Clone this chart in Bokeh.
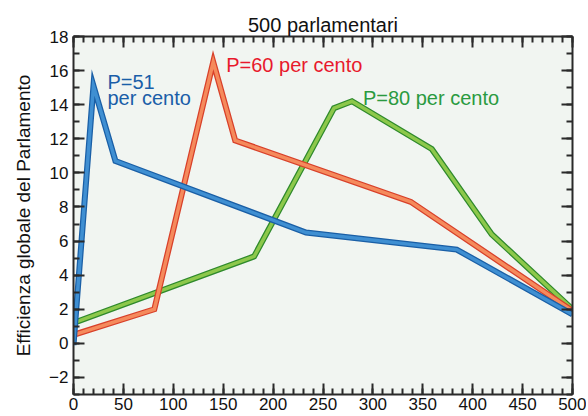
from bokeh.plotting import figure
from bokeh.models import LinearAxis, Range1d, FixedTicker, Label
from bokeh.embed import file_html
from bokeh.resources import INLINE

# Data
x_p51 = [0, 20, 42, 233, 384, 500]
y_p51 = [-0.1, 15.1, 10.7, 6.5, 5.5, 1.7]

x_p60 = [0, 81, 140, 162, 338, 500]
y_p60 = [0.5, 2.0, 16.5, 11.9, 8.3, 1.9]

x_p80 = [0, 181, 261, 279, 359, 419, 500]
y_p80 = [1.2, 5.1, 13.8, 14.2, 11.4, 6.4, 2.0]

x_ticks = list(range(0, 501, 50))
x_minor = list(range(0, 501, 10))
y_ticks = list(range(-2, 19, 2))
y_minor = list(range(-3, 19, 1))

title_text = "500 parlamentari"
y_label = "Efficienza globale del Parlamento"

FONT = "Liberation Sans"
AX = "#2a2a2a"

p = figure(frame_width=499, frame_height=358, x_range=Range1d(0, 500), y_range=Range1d(-3, 18),
           output_backend="svg", toolbar_location=None,
           min_border_left=73, min_border_right=14, min_border_top=36, min_border_bottom=0)

p.background_fill_color = "#f1f5f1"
p.border_fill_color = "white"
p.outline_line_color = None
p.xgrid.visible = False
p.ygrid.visible = False

p.title.text = title_text
p.title.align = "center"
p.title.text_font = FONT
p.title.text_font_size = "20px"
p.title.text_font_style = "normal"
p.title.text_color = "#111111"
p.title.standoff = 2


def style_axis(ax, labels=True):
    ax.axis_line_color = AX
    ax.axis_line_width = 2
    ax.major_tick_line_color = AX
    ax.minor_tick_line_color = AX
    ax.major_tick_line_width = 2
    ax.minor_tick_line_width = 2
    ax.major_tick_in = 11
    ax.major_tick_out = 0
    ax.minor_tick_in = 6
    ax.minor_tick_out = 0
    ax.major_label_text_font = FONT
    ax.major_label_text_color = "#111111"
    if labels:
        ax.major_label_text_font_size = "17px"
        ax.major_label_standoff = 3
    else:
        ax.major_label_overrides = {t: "" for t in ax.ticker.ticks}
        ax.major_label_standoff = 0


p.xaxis.ticker = FixedTicker(ticks=x_ticks, minor_ticks=x_minor)
p.yaxis.ticker = FixedTicker(ticks=y_ticks, minor_ticks=y_minor)
style_axis(p.xaxis[0])
style_axis(p.yaxis[0])
p.yaxis.major_label_standoff = 5
p.yaxis.axis_label = y_label
p.yaxis.axis_label_text_font = FONT
p.yaxis.axis_label_text_font_size = "19px"
p.yaxis.axis_label_text_font_style = "normal"
p.yaxis.axis_label_text_color = "#111111"
p.yaxis.axis_label_standoff = 12

top = LinearAxis(ticker=FixedTicker(ticks=x_ticks, minor_ticks=x_minor))
style_axis(top, labels=False)
p.add_layout(top, "above")
right = LinearAxis(ticker=FixedTicker(ticks=y_ticks, minor_ticks=y_minor))
style_axis(right, labels=False)
p.add_layout(right, "right")

series = [
    (x_p80, y_p80, "#2f8a2c", "#8dc84b"),
    (x_p60, y_p60, "#d8402a", "#f58a5c"),
    (x_p51, y_p51, "#1a5fa6", "#3f8fd2"),
]
for xs, ys, outer, inner in series:
    p.line(xs, ys, line_color=outer, line_width=6, line_join="miter")
    p.line(xs, ys, line_color=inner, line_width=3.5, line_join="miter")

labels = [
    ("P=51", 34, 15.35, "#1a5ea8"),
    ("per cento", 34, 14.4, "#1a5ea8"),
    ("P=60 per cento", 153, 16.3, "#e8192c"),
    ("P=80 per cento", 290, 14.4, "#2a9a40"),
]
for txt, lx, ly, col in labels:
    p.add_layout(Label(x=lx, y=ly, text=txt, text_font=FONT, text_font_size="20px",
                       text_color=col, text_baseline="alphabetic", text_align="left"))

open("out.html", "w").write(file_html(p, INLINE))
